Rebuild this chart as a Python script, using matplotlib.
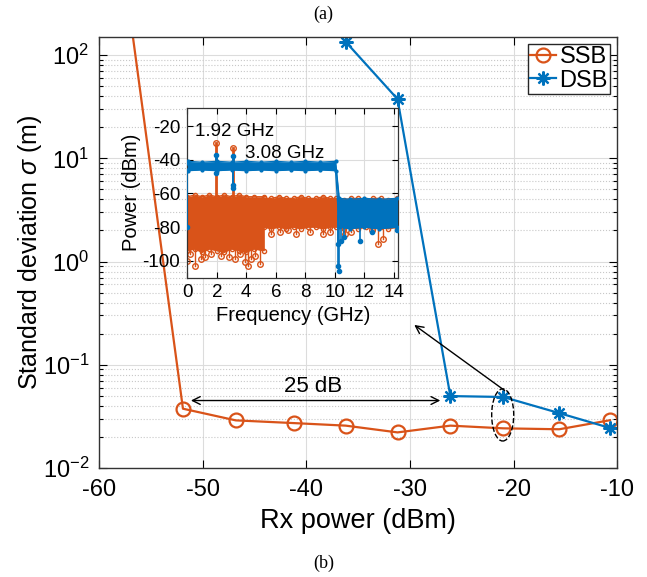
import numpy as np
import matplotlib.pyplot as plt
from matplotlib.patches import Ellipse

plt.rcParams['font.family'] = ['Liberation Sans', 'DejaVu Sans']
plt.rcParams['mathtext.fontset'] = 'custom'
plt.rcParams['mathtext.rm'] = 'Liberation Sans'
plt.rcParams['mathtext.it'] = 'Liberation Sans:italic'
plt.rcParams['axes.unicode_minus'] = False

# Main curves: std deviation vs received power
ssb_x = [-57, -51.9, -46.8, -41.2, -36.2, -31.2, -26.1, -21.0, -15.6, -10.7]
ssb_y = [240, 0.0375, 0.0289, 0.0272, 0.0257, 0.0221, 0.0257, 0.0242, 0.0237, 0.0290]
dsb_x = [-36.2, -31.2, -26.1, -21.0, -15.6, -10.7]
dsb_y = [134.7, 37.5, 0.0497, 0.0487, 0.0340, 0.0244]

# Inset spectrum, SSB band envelope (GHz, dBm)
ssb_f = [0, 0.5, 1.0, 1.5, 2.0, 2.5, 3.0, 3.5, 4.0, 4.5, 5.2, 5.2, 5.7, 6.2, 6.7,
         7.2, 7.7, 8.2, 8.7, 9.2, 9.7, 10.1, 10.6, 11.1, 11.6, 12.1, 12.6, 13.1, 13.6, 14.25]
ssb_hi = [-62, -61, -62, -61, -62, -61, -62, -61, -62, -62, -62, -63, -63, -62, -63,
          -63, -62, -63, -63, -62, -63, -63, -64, -63, -63, -64, -63, -63, -64, -63]
ssb_lo = [-94, -93, -95, -93, -94, -95, -93, -94, -95, -93, -94, -80, -81, -80, -81,
          -80, -81, -80, -80, -81, -80, -80, -81, -80, -81, -80, -81, -80, -81, -80]
ssb_peak_f = [1.92, 3.08]
ssb_peak_p = [-30, -33]
ssb_dip_f = [0.0, 0.15, 0.5, 0.9, 1.2, 1.6, 2.3, 2.8, 3.2, 3.6, 3.9, 4.1, 4.3, 4.6, 4.9,
             5.7, 6.3, 6.8, 7.4, 8.3, 9.2, 9.7, 10.7, 11.1, 12.5, 12.9, 13.3]
ssb_dip_p = [-100, -96, -103, -99, -98, -96, -97, -98, -99, -96, -101, -103, -99, -97, -102,
             -84, -83, -82, -84, -83, -84, -83, -84, -83, -82, -90, -87]

# Inset spectrum, DSB band envelope
dsb_f = [0, 0.05, 1, 2, 3, 4, 5, 6, 7, 8, 9, 10.05, 10.3, 11, 12, 13, 14.25]
dsb_hi = [-42, -41, -41.5, -41, -41.5, -41, -41.5, -41, -41.5, -41, -41.5, -41, -63, -63.5, -63, -63.5, -63]
dsb_lo = [-46, -46.5, -46, -46.5, -46, -46.5, -46, -46.5, -46, -46.5, -46, -46.5, -80, -81, -80, -81, -80]
dsb_peak_f = [1.92, 3.08]
dsb_peak_p = [-37, -38]
dsb_dip_f = [0.0, 1.92, 3.08, 3.08, 10.2, 10.25, 10.3, 10.4, 10.6, 11.7, 12.5, 14.2]
dsb_dip_p = [-80, -48, -55, -57, -90, -103, -106, -88, -86, -88, -83, -82]

c_ssb = '#D95319'
c_dsb = '#0072BD'
grid_c = '#dcdcdc'

fig = plt.figure(figsize=(6.47, 5.77), dpi=100)
ax = fig.add_axes([0.153, 0.189, 0.801, 0.747])

ax.plot(ssb_x, ssb_y, '-o', color=c_ssb, lw=1.6, ms=10, mfc='none', mew=1.6, label='SSB')
ax.plot(dsb_x, dsb_y, '-', marker=(8, 2, 0), color=c_dsb, lw=1.6, ms=10, mew=1.6, label='DSB')

ax.set_yscale('log')
ax.set_xlim(-60, -10)
ax.set_ylim(1e-2, 150)
ax.set_xticks([-60, -50, -40, -30, -20, -10])
ax.set_xlabel('Rx power (dBm)', fontsize=19.5, labelpad=5)
ax.set_ylabel(r'Standard deviation $\mathit{\sigma}$ (m)', fontsize=18, labelpad=-1)
ax.tick_params(which='both', direction='in', top=True, right=True, labelsize=17, width=0.8)
ax.tick_params(axis='x', pad=8)
ax.tick_params(axis='y', pad=7)
ax.tick_params(which='major', length=6)
ax.tick_params(which='minor', length=3)
ax.grid(True, which='major', color=grid_c, lw=0.8)
ax.grid(True, which='minor', axis='y', color='#c8c8c8', ls=':', lw=0.8)
ax.set_axisbelow(True)
for s in ax.spines.values():
    s.set_color('#333333')
    s.set_linewidth(1.0)

leg = ax.legend(loc='upper right', fontsize=17, fancybox=False, edgecolor='#262626',
                borderpad=0.1, handlelength=1.1, handletextpad=0.15, labelspacing=0.05,
                borderaxespad=0.3, framealpha=1)
leg.get_frame().set_linewidth(1.0)

# 25 dB arrow
ax.annotate('', xy=(-51.4, 0.045), xytext=(-26.8, 0.045),
            arrowprops=dict(arrowstyle='<->', color='black', lw=1.0, mutation_scale=14))
ax.text(-39.3, 0.0616, '25 dB', fontsize=16, ha='center', va='center')

# dashed ellipse around the -21 dBm points
ell = Ellipse((0.779, 0.123), 0.0425, 0.121, transform=ax.transAxes, fill=False,
              ls='--', lw=1.0, ec='black', zorder=5)
ax.add_patch(ell)
ax.annotate('', xy=(-29.8, 0.252), xytext=(-20.65, 0.0543),
            arrowprops=dict(arrowstyle='->', color='black', lw=1.0, mutation_scale=14))

# Inset spectrum
ins = fig.add_axes([0.2895, 0.519, 0.326, 0.2946])
ins.set_facecolor('white')
ins.fill_between(ssb_f, ssb_lo, ssb_hi, color=c_ssb, lw=0, zorder=2)
ins.plot(ssb_f, ssb_hi, 'o-', color=c_ssb, ms=3, mfc='none', lw=1.0, zorder=2)
ins.plot(ssb_f, ssb_lo, 'o-', color=c_ssb, ms=3, mfc='none', lw=1.0, zorder=2)
for f, p in zip(ssb_peak_f, ssb_peak_p):
    base = np.interp(f, ssb_f[:10], ssb_hi[:10])
    ins.plot([f, f], [base, p], '-o', color=c_ssb, lw=2.0, ms=4, mfc='none', markevery=[1], zorder=2)
for f, p in zip(ssb_dip_f, ssb_dip_p):
    base = np.interp(f, ssb_f[:10], ssb_lo[:10]) if f < 5.2 else np.interp(f, ssb_f[11:], ssb_lo[11:])
    ins.plot([f, f], [base, p], '-o', color=c_ssb, lw=1.0, ms=4, mfc='none', markevery=[1], zorder=2)

ins.fill_between(dsb_f, dsb_lo, dsb_hi, color=c_dsb, lw=0, zorder=3)
ins.plot(dsb_f, dsb_hi, '.-', color=c_dsb, ms=4, lw=1.0, zorder=3)
ins.plot(dsb_f, dsb_lo, '.-', color=c_dsb, ms=4, lw=1.0, zorder=3)
for f, p in zip(dsb_peak_f, dsb_peak_p):
    base = np.interp(f, dsb_f, dsb_hi)
    ins.plot([f, f], [base, p], '-', marker='.', color=c_dsb, lw=2.0, ms=6, markevery=[1], zorder=3)
for f, p in zip(dsb_dip_f, dsb_dip_p):
    base = np.interp(f, dsb_f, dsb_lo)
    ins.plot([f, f], [base, p], '-', marker='.', color=c_dsb, lw=1.2, ms=6, markevery=[1], zorder=3)

ins.set_xlim(0, 14.3)
ins.set_ylim(-110, -9)
ins.set_xticks(range(0, 15, 2))
ins.set_yticks([-100, -80, -60, -40, -20])
ins.tick_params(direction='in', top=True, right=True, labelsize=13.5, length=4, width=0.8, pad=5)
ins.grid(True, color=grid_c, lw=0.8)
ins.set_axisbelow(True)
ins.set_xlabel('Frequency (GHz)', fontsize=14.5, labelpad=3)
ins.set_ylabel('Power (dBm)', fontsize=14.5, labelpad=1)
for s in ins.spines.values():
    s.set_color('#333333')
    s.set_linewidth(0.9)
ins.text(0.5, -23, '1.92 GHz', fontsize=13.5, va='center')
ins.text(3.9, -36.5, '3.08 GHz', fontsize=13.5, va='center')

# panel captions
fig.text(0.5, 0.976, '(a)', family='Liberation Serif', fontsize=13, ha='center', va='center')
fig.text(0.5, 0.024, '(b)', family='Liberation Serif', fontsize=13, ha='center', va='center')

fig.savefig('out.png', dpi=100)
